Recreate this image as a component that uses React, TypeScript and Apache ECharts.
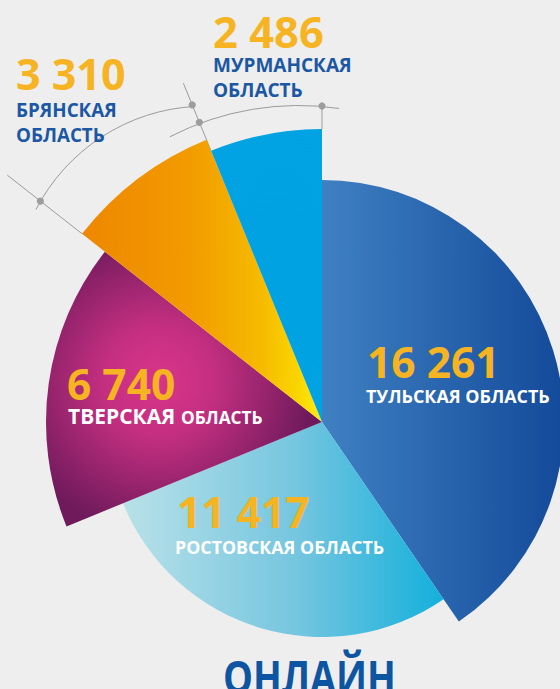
import React, { useEffect, useRef } from "react";
import * as echarts from "echarts";

// ---- data ----
const regions = [
  "ТУЛЬСКАЯ ОБЛАСТЬ",
  "РОСТОВСКАЯ ОБЛАСТЬ",
  "ТВЕРСКАЯ ОБЛАСТЬ",
  "БРЯНСКАЯ ОБЛАСТЬ",
  "МУРМАНСКАЯ ОБЛАСТЬ",
];
const values = [16261, 11417, 6740, 3310, 2486];
const title = "ОНЛАЙН";

// ---- styles ----
const CX = 322;
const CY = 422;
const radii = [242, 215, 276, 305, 293];
const GOLD = "#f6b422";
const BLUE = "#1b57a3";
const GUIDE = "#9b9b9b";
const FONT = "'Open Sans', 'Noto Sans', sans-serif";

const fills: any[] = [
  {
    type: "linear", x: 0, y: 0, x2: 1, y2: 0,
    colorStops: [
      { offset: 0, color: "#3f80c2" },
      { offset: 1, color: "#134a9a" },
    ],
  },
  {
    type: "linear", x: 0, y: 0, x2: 1, y2: 0,
    colorStops: [
      { offset: 0, color: "#b9e1e8" },
      { offset: 0.55, color: "#74c5df" },
      { offset: 1, color: "#13b0dc" },
    ],
  },
  {
    type: "radial", x: 0.41, y: 0.47, r: 0.56,
    colorStops: [
      { offset: 0, color: "#d8358a" },
      { offset: 0.35, color: "#c52f81" },
      { offset: 1, color: "#6e1a5b" },
    ],
  },
  {
    type: "linear", x: 0, y: 0, x2: 1, y2: 0,
    colorStops: [
      { offset: 0, color: "#ee8700" },
      { offset: 0.45, color: "#f29b00" },
      { offset: 0.75, color: "#f6bb00" },
      { offset: 0.9, color: "#fad500" },
      { offset: 1, color: "#ffec14" },
    ],
  },
  {
    type: "radial", x: 0.62, y: 0.53, r: 1.3,
    colorStops: [
      { offset: 0, color: "#00a2e2" },
      { offset: 0.72, color: "#03a3e2" },
      { offset: 0.9, color: "#36a8df" },
      { offset: 1, color: "#3ca9de" },
    ],
  },
];

const fmt = (v: number) => String(v).replace(/\B(?=(\d{3})+(?!\d))/g, " ");

export default function App() {
  const ref = useRef<HTMLDivElement>(null);
  useEffect(() => {
    if (!ref.current) return;
    const chart = echarts.init(ref.current, undefined, { renderer: "svg" });
    const total = values.reduce((a, b) => a + b, 0);
    const cumAngle = (k: number) =>
      (values.slice(0, k).reduce((a, b) => a + b, 0) / total) * 360;
    const pt = (deg: number, r: number) => {
      const a = (deg * Math.PI) / 180;
      return [CX + r * Math.sin(a), CY - r * Math.cos(a)];
    };

    const series = values.map((_, k) => ({
      type: "pie",
      center: [CX, CY],
      radius: [0, radii[k]],
      startAngle: 90,
      clockwise: true,
      silent: true,
      label: { show: false },
      labelLine: { show: false },
      emphasis: { disabled: true },
      itemStyle: { borderWidth: 0 },
      data: values.map((v, i) => ({
        value: v,
        name: regions[i],
        itemStyle: { color: i === k ? fills[k] : "rgba(0,0,0,0)" },
      })),
    }));

    const thA = cumAngle(3);
    const thB = cumAngle(4);
    const thC = cumAngle(5);
    const line = (a: number[], b: number[]) => ({
      type: "line",
      shape: { x1: a[0], y1: a[1], x2: b[0], y2: b[1] },
      style: { stroke: GUIDE, lineWidth: 1 },
    });
    const dot = (p: number[]) => ({
      type: "circle",
      shape: { cx: p[0], cy: p[1], r: 3.6 },
      style: { fill: "#9d9d9d" },
      z: 10,
    });
    const arc = (cx: number, cy: number, r: number, s: number, e: number) => ({
      type: "arc",
      shape: { cx, cy, r, startAngle: (s * Math.PI) / 180, endAngle: (e * Math.PI) / 180, clockwise: true },
      style: { stroke: GUIDE, lineWidth: 1, fill: null },
    });
    const txt = (
      text: string, x: number, y: number, size: number, color: string,
      align = "left", sx = 1
    ) => ({
      type: "text",
      x,
      y,
      scaleX: sx,
      style: {
        text,
        fill: color,
        fontSize: size,
        fontWeight: 700,
        fontFamily: FONT,
        align,
        verticalAlign: "middle",
      },
      z: 20,
    });
    const split = (s: string) => s.split(" ");

    const graphic: any[] = [
      line(pt(thA, radii[3]), pt(thA, 400)),
      line(pt(thB, radii[4]), pt(thB, 366)),
      line(pt(thC, radii[4]), pt(thC, 316)),
      arc(205.7, 297.1, 191, 207.3, 266.8),
      arc(298.6, 386, 280.5, 242.7, 278.3),
      dot(pt(thA, 358)),
      dot(pt(thB, 342.6)),
      dot(pt(thB, 323.8)),
      dot(pt(thC, 316)),
      // Тульская
      txt(fmt(values[0]), 367, 361, 42.5, GOLD),
      txt(regions[0], 366, 395.5, 17.9, "#ffffff"),
      // Ростовская
      txt(fmt(values[1]), 177, 511, 42.5, GOLD),
      txt(regions[1], 175, 547, 17.8, "#ffffff"),
      // Тверская
      txt(fmt(values[2]), 67, 383, 42.5, GOLD),
      txt(split(regions[2])[0], 68, 416, 21, "#ffffff"),
      txt(split(regions[2])[1], 181, 417.5, 17.3, "#ffffff"),
      // Брянская
      txt(fmt(values[3]), 16, 73, 43, GOLD),
      txt(split(regions[3])[0], 16, 110, 18.8, BLUE),
      txt(split(regions[3])[1], 16, 135, 18.8, BLUE),
      // Мурманская
      txt(fmt(values[4]), 213, 31, 43.5, GOLD),
      txt(split(regions[4])[0], 213, 64.5, 19, BLUE),
      txt(split(regions[4])[1], 213, 90, 19, BLUE),
      // title
      txt(title, 309.5, 676, 46, "#0e55a1", "center", 0.82),
    ];

    chart.setOption({
      animation: false,
      backgroundColor: "#eeeeee",
      series,
      graphic: { elements: graphic },
    });
    return () => chart.dispose();
  }, []);
  return (
    <div
      ref={ref}
      style={{ position: "fixed", left: 0, top: 0, width: 560, height: 689 }}
    />
  );
}
